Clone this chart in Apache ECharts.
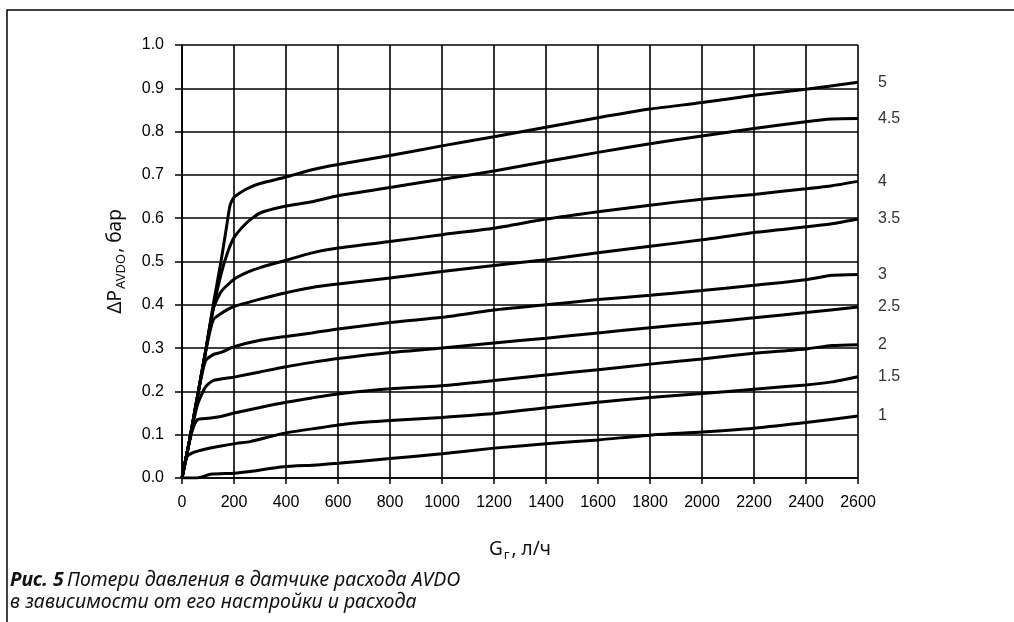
<!DOCTYPE html>
<html>
<head>
<meta charset="utf-8">
<script src="https://cdn.jsdelivr.net/npm/echarts@6/dist/echarts.min.js"></script>
<style>
html,body{margin:0;padding:0;background:#fff;}
#chart{width:1014px;height:622px;}
</style>
</head>
<body>
<div id="chart"></div>
<script>
// Settings (curve labels) and flow/pressure data
const settings = ['1', '1.5', '2', '2.5', '3', '3.5', '4', '4.5', '5'];

const curve1 = [[0,0],[56,0],[114,0.009],[200,0.011],[262,0.015],[390,0.026],[518,0.03],[600,0.034],[800,0.045],[1000,0.056],[1200,0.069],[1400,0.079],[1600,0.088],[1800,0.099],[2000,0.106],[2200,0.115],[2400,0.128],[2600,0.143]];
const curve15 = [[0,0],[10,0.03],[20,0.05],[40,0.058],[60,0.062],[100,0.068],[150,0.074],[210,0.08],[262,0.084],[390,0.103],[518,0.115],[646,0.126],[800,0.133],[1000,0.14],[1200,0.149],[1400,0.162],[1600,0.175],[1800,0.186],[2000,0.195],[2200,0.205],[2400,0.215],[2500,0.222],[2600,0.234]];
const curve2 = [[0,0],[20,0.06],[40,0.11],[60,0.135],[100,0.138],[150,0.142],[200,0.15],[300,0.163],[400,0.175],[500,0.185],[600,0.194],[800,0.206],[1000,0.213],[1200,0.225],[1400,0.238],[1600,0.25],[1800,0.263],[2000,0.275],[2200,0.288],[2400,0.298],[2500,0.306],[2600,0.308]];
const curve25 = [[0,0],[30,0.09],[60,0.17],[90,0.21],[120,0.225],[200,0.233],[300,0.245],[400,0.257],[500,0.267],[600,0.276],[800,0.29],[1000,0.3],[1200,0.312],[1400,0.323],[1600,0.335],[1800,0.347],[2000,0.358],[2200,0.37],[2400,0.382],[2600,0.395]];
const curve3 = [[0,0],[30,0.09],[60,0.19],[90,0.27],[120,0.285],[150,0.29],[200,0.303],[300,0.318],[400,0.327],[500,0.335],[600,0.344],[800,0.359],[1000,0.371],[1200,0.388],[1400,0.4],[1600,0.412],[1800,0.422],[2000,0.433],[2200,0.445],[2400,0.458],[2500,0.468],[2600,0.47]];
const curve35 = [[0,0],[30,0.09],[60,0.19],[90,0.29],[120,0.365],[150,0.38],[200,0.396],[300,0.413],[400,0.428],[500,0.44],[600,0.448],[800,0.462],[1000,0.477],[1200,0.491],[1400,0.504],[1600,0.52],[1800,0.535],[2000,0.55],[2200,0.567],[2400,0.58],[2500,0.587],[2600,0.598]];
const curve4 = [[0,0],[30,0.09],[60,0.19],[90,0.29],[120,0.39],[150,0.43],[200,0.459],[250,0.475],[300,0.486],[400,0.503],[500,0.52],[600,0.531],[800,0.546],[1000,0.562],[1200,0.577],[1400,0.598],[1600,0.615],[1800,0.63],[2000,0.644],[2200,0.655],[2400,0.668],[2500,0.675],[2600,0.685]];
const curve45 = [[0,0],[30,0.09],[60,0.19],[90,0.29],[120,0.39],[150,0.47],[175,0.52],[200,0.555],[250,0.59],[300,0.612],[400,0.628],[500,0.638],[600,0.652],[800,0.671],[1000,0.69],[1200,0.709],[1400,0.731],[1600,0.752],[1800,0.772],[2000,0.79],[2200,0.807],[2400,0.823],[2500,0.829],[2600,0.83]];
const curve5 = [[0,0],[30,0.09],[60,0.19],[90,0.29],[120,0.4],[150,0.5],[170,0.575],[185,0.63],[200,0.648],[250,0.668],[300,0.68],[400,0.695],[500,0.712],[600,0.724],[800,0.745],[1000,0.767],[1200,0.788],[1400,0.81],[1600,0.832],[1800,0.852],[2000,0.867],[2200,0.884],[2400,0.898],[2600,0.914]];

const curves = [curve1, curve15, curve2, curve25, curve3, curve35, curve4, curve45, curve5];

const xTicks = [0,200,400,600,800,1000,1200,1400,1600,1800,2000,2200,2400,2600];
const yTicks = [0.0,0.1,0.2,0.3,0.4,0.5,0.6,0.7,0.8,0.9,1.0];

const chart = echarts.init(document.getElementById('chart'), null, {renderer:'canvas'});

const tickFont = 'Liberation Sans, Arial, sans-serif';
const titleFont = 'Noto Sans, Open Sans, sans-serif';

const series = curves.map((c, i) => ({
  type: 'line',
  name: settings[i],
  data: c,
  showSymbol: false,
  smooth: 0.2,
  lineStyle: {color: '#000', width: 3},
  endLabel: {
    show: true,
    formatter: settings[i],
    distance: 20,
    color: '#333',
    fontFamily: 'Liberation Sans Narrow, Liberation Sans, sans-serif',
    fontSize: 16,
    align: 'left'
  },
  silent: true,
  z: 3
}));

chart.setOption({
  animation: false,
  backgroundColor: '#fff',
  grid: {left: 182, top: 45, width: 676, height: 433, show: false},
  xAxis: {
    type: 'value',
    min: 0, max: 2600, interval: 200,
    name: '{a|G}{s|г}{a|, л/ч}',
    nameLocation: 'middle',
    nameGap: 60,
    nameTextStyle: {
      rich: {
        a: {fontFamily: titleFont, fontSize: 19, color: '#111', lineHeight: 24},
        s: {fontFamily: titleFont, fontSize: 13, color: '#111', lineHeight: 13, verticalAlign: 'bottom', padding: [0, 2, 0, 1]}
      }
    },
    axisLine: {show: true, lineStyle: {color: '#000', width: 1.6}},
    axisTick: {show: true, inside: false, length: 6, lineStyle: {color: '#000', width: 1.5}},
    axisLabel: {
      margin: 17,
      fontFamily: tickFont, fontSize: 16, color: '#000',
      formatter: v => String(v),
      customValues: xTicks
    },
    splitLine: {show: true, lineStyle: {color: '#000', width: 1.6}}
  },
  yAxis: {
    type: 'value',
    min: 0, max: 1, interval: 0.1,
    name: '{a|ΔP}{s|AVDO}{a|, бар}',
    nameLocation: 'middle',
    nameGap: 54,
    nameTextStyle: {
      rich: {
        a: {fontFamily: titleFont, fontSize: 19, color: '#111', lineHeight: 24},
        s: {fontFamily: titleFont, fontSize: 13, color: '#111', lineHeight: 13, verticalAlign: 'bottom', padding: [0, 1, 0, 1]}
      }
    },
    axisLine: {show: true, lineStyle: {color: '#000', width: 1.6}},
    axisTick: {show: true, inside: false, length: 7, lineStyle: {color: '#000', width: 1.5}},
    axisLabel: {
      margin: 18,
      fontFamily: tickFont, fontSize: 16, color: '#000',
      formatter: v => v.toFixed(1)
    },
    splitLine: {show: true, lineStyle: {color: '#000', width: 1.6}}
  },
  graphic: [
    {
      type: 'rect',
      shape: {x: 7, y: 10, width: 1020, height: 640},
      style: {fill: 'none', stroke: '#000', lineWidth: 1.5},
      silent: true
    },
    {
      type: 'text',
      left: 10, top: 570,
      style: {
        text: '{b|Рис. 5} {i|Потери давления в датчике расхода AVDO}\n{i|в зависимости от его настройки и расхода}',
        rich: {
          b: {fontFamily: titleFont, fontSize: 19.5, fontWeight: 'bold', fontStyle: 'italic', fill: '#111', lineHeight: 22},
          i: {fontFamily: titleFont, fontSize: 19.5, fontStyle: 'italic', fill: '#111', lineHeight: 22}
        }
      },
      silent: true
    }
  ],
  series: series
});
</script>
</body>
</html>
